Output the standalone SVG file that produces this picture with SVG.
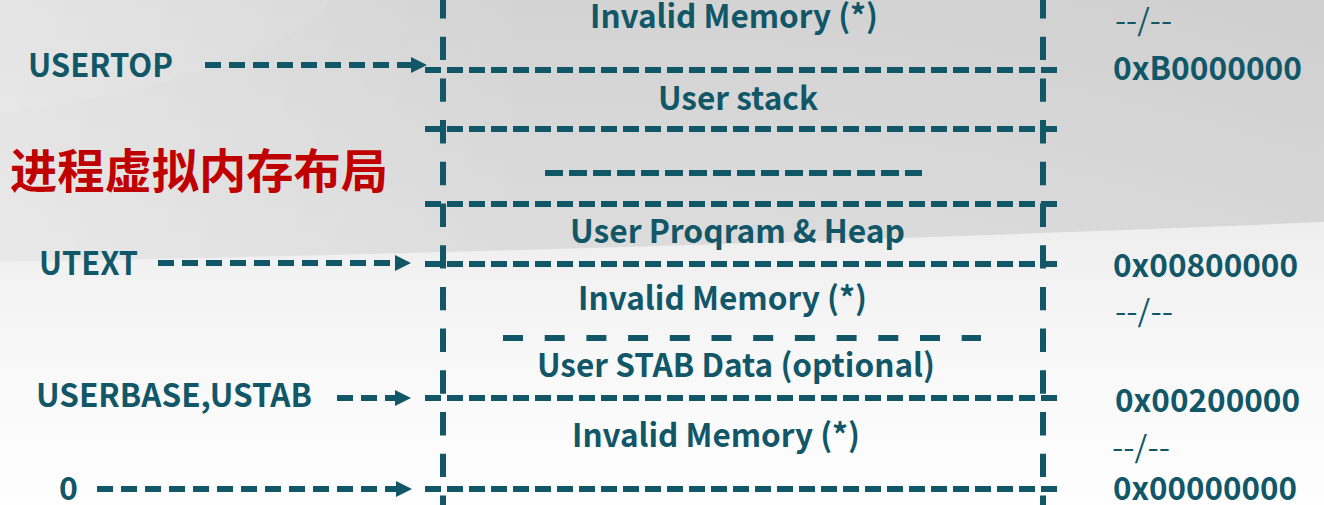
<svg xmlns="http://www.w3.org/2000/svg" width="1324" height="505" viewBox="0 0 1324 505">
  <defs>
    <linearGradient id="bgTop" x1="0" y1="0" x2="0" y2="1">
      <stop offset="0" stop-color="#d3d3d3"/>
      <stop offset="0.5" stop-color="#dcdcdc"/>
      <stop offset="1" stop-color="#ebebeb"/>
    </linearGradient>
    <linearGradient id="bgShade" x1="0" y1="0" x2="1" y2="0">
      <stop offset="0" stop-color="#ffffff" stop-opacity="0.35"/>
      <stop offset="0.4" stop-color="#ffffff" stop-opacity="0"/>
      <stop offset="1" stop-color="#000000" stop-opacity="0.02"/>
    </linearGradient>
    <linearGradient id="bgBot" x1="0" y1="0" x2="0" y2="1">
      <stop offset="0" stop-color="#eeeeee"/>
      <stop offset="0.5" stop-color="#f8f8f8"/>
      <stop offset="1" stop-color="#fefefe"/>
    </linearGradient>
    <marker id="arrow" viewBox="0 0 16 16" refX="0" refY="8" markerWidth="16" markerHeight="16" markerUnits="userSpaceOnUse" orient="auto">
      <path d="M0,0 L16,8 L0,16 Z" fill="#115768"/>
    </marker>
    <style>
      .t { font-family: "Noto Sans CJK SC", "Noto Sans", sans-serif; font-weight: 700; fill: #115768; font-size: 32px; }
      .r { font-family: "Noto Sans CJK SC", "Noto Sans", sans-serif; font-weight: 400; fill: #115768; font-size: 30px; }
      .cn { font-family: "Noto Sans CJK SC", sans-serif; font-weight: 700; fill: #c00000; font-size: 47px; }
      .vl { stroke: #115768; stroke-width: 6; stroke-dasharray: 23.4 18.3; fill: none; }
      .hl { stroke: #115768; stroke-width: 6; stroke-dasharray: 16 6; fill: none; }
      .ar { stroke: #115768; stroke-width: 6; stroke-dasharray: 16 8; fill: none; }
    </style>
  </defs>

  <rect x="0" y="0" width="1324" height="505" fill="url(#bgTop)"/>
  <rect x="0" y="0" width="1324" height="300" fill="url(#bgShade)"/>
  <path d="M0,0 L330,0 Q280,70 0,115 Z" fill="#ffffff" opacity="0.08"/>
  <path d="M0,262 Q650,250 1324,222 L1324,505 L0,505 Z" fill="url(#bgBot)"/>

  <g id="memory-box">
    <line class="vl" x1="443" y1="-5" x2="443" y2="505"/>
    <line class="vl" x1="1043" y1="-5" x2="1043" y2="505"/>
  </g>

  <g id="boundaries">
    <line class="hl" x1="425" y1="70" x2="1062" y2="70"/>
    <line class="hl" x1="425" y1="129" x2="1062" y2="129"/>
    <line class="hl" x1="425" y1="204" x2="1062" y2="204"/>
    <line class="hl" x1="425" y1="264" x2="1062" y2="264"/>
    <line class="hl" x1="425" y1="398" x2="1062" y2="398"/>
    <line class="hl" x1="425" y1="489" x2="1062" y2="489"/>
    <line class="hl" x1="545" y1="173" x2="922" y2="173" style="stroke-dasharray:18 6"/>
    <line class="hl" x1="503" y1="338" x2="981" y2="338" style="stroke-dasharray:20 21.7"/>
  </g>

  <g id="connectors">
    <line class="ar" x1="205" y1="65" x2="411" y2="65" marker-end="url(#arrow)"/>
    <line class="ar" x1="158" y1="263" x2="395" y2="263" marker-end="url(#arrow)"/>
    <line class="ar" x1="337" y1="398" x2="395" y2="398" marker-end="url(#arrow)"/>
    <line class="ar" x1="97" y1="489" x2="396" y2="489" marker-end="url(#arrow)"/>
  </g>

  <g id="region-labels">
    <text class="t" x="590" y="28" textLength="288" lengthAdjust="spacingAndGlyphs">Invalid Memory (*)</text>
    <text class="t" x="658" y="110" textLength="160" lengthAdjust="spacingAndGlyphs">User stack</text>
    <text class="t" x="570" y="243" textLength="335" lengthAdjust="spacingAndGlyphs">User Proqram &amp; Heap</text>
    <text class="t" x="578" y="310" textLength="289" lengthAdjust="spacingAndGlyphs">Invalid Memory (*)</text>
    <text class="t" x="537" y="377" textLength="398" lengthAdjust="spacingAndGlyphs">User STAB Data (optional)</text>
    <text class="t" x="572" y="447" textLength="288" lengthAdjust="spacingAndGlyphs">Invalid Memory (*)</text>
  </g>

  <g id="pointer-labels">
    <text class="t" x="28" y="77" textLength="145" lengthAdjust="spacingAndGlyphs">USERTOP</text>
    <text class="t" x="39" y="275" textLength="99" lengthAdjust="spacingAndGlyphs">UTEXT</text>
    <text class="t" x="36" y="407" textLength="276" lengthAdjust="spacingAndGlyphs">USERBASE,USTAB</text>
    <text class="t" x="59" y="500">0</text>
  </g>

  <g id="title">
    <text class="cn" x="10" y="188" textLength="378" lengthAdjust="spacingAndGlyphs">进程虚拟内存布局</text>
  </g>

  <g id="addresses">
    <text class="r" x="1115" y="31" textLength="57" lengthAdjust="spacingAndGlyphs">--/--</text>
    <text class="t" x="1113" y="80" textLength="189" lengthAdjust="spacingAndGlyphs">0xB0000000</text>
    <text class="t" x="1113" y="277" textLength="185" lengthAdjust="spacingAndGlyphs">0x00800000</text>
    <text class="r" x="1115" y="322" textLength="58" lengthAdjust="spacingAndGlyphs">--/--</text>
    <text class="t" x="1115" y="412" textLength="185" lengthAdjust="spacingAndGlyphs">0x00200000</text>
    <text class="r" x="1112" y="458" textLength="58" lengthAdjust="spacingAndGlyphs">--/--</text>
    <text class="t" x="1113" y="500" textLength="184" lengthAdjust="spacingAndGlyphs">0x00000000</text>
  </g>
</svg>
